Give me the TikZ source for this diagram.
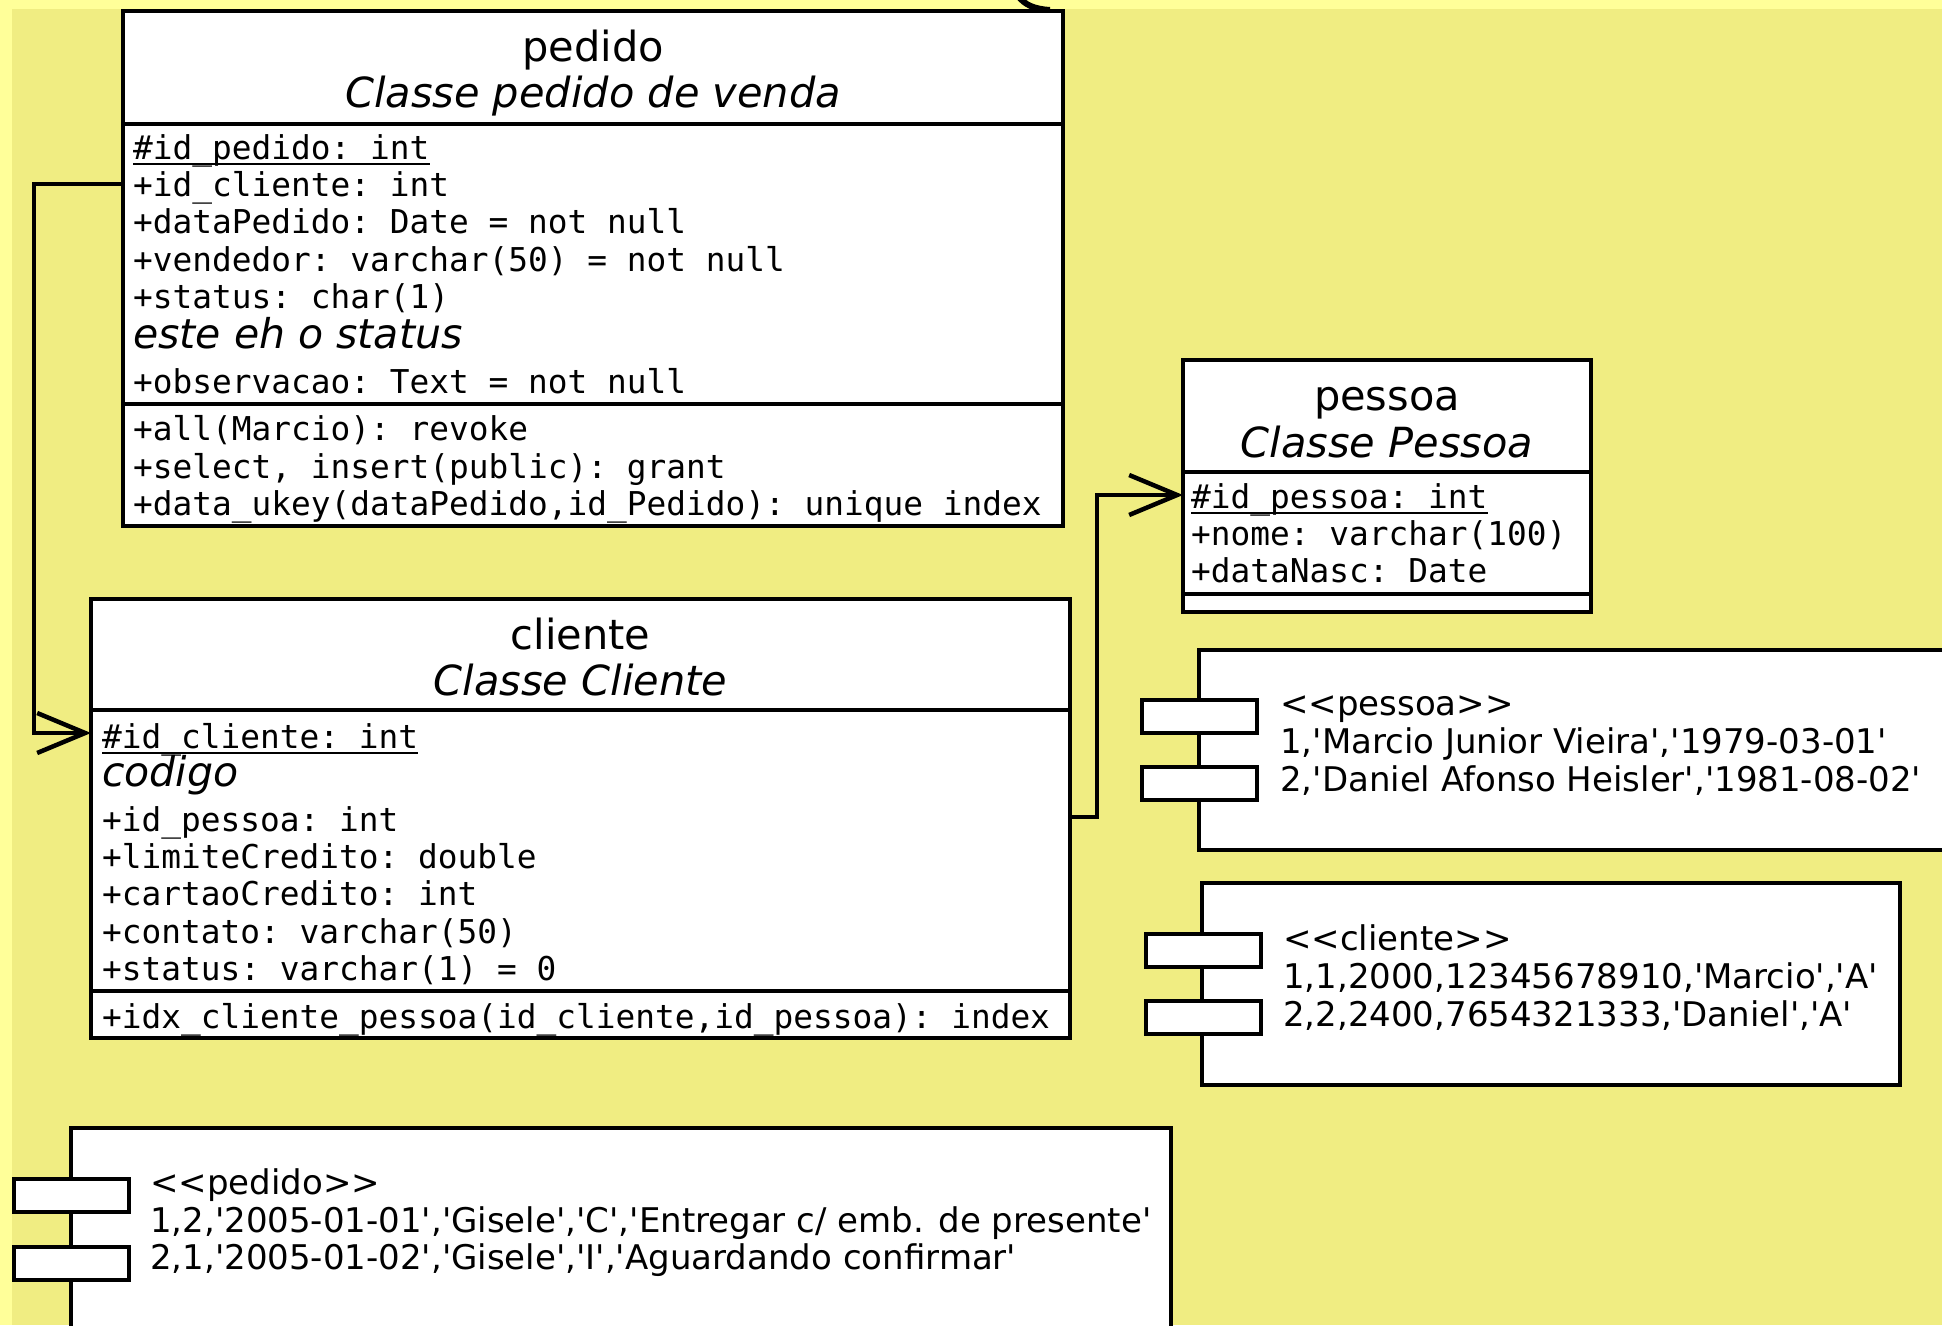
\documentclass[tikz,border=0pt]{standalone}
\usepackage{fontspec}
\setmainfont{DejaVu Sans}
\setmonofont{DejaVu Sans Mono}
\usetikzlibrary{arrows.meta}
\definecolor{bgyellow}{RGB}{240,237,130}
\definecolor{edgeyellow}{RGB}{255,255,153}
\newcommand{\sqt}{\textquotesingle}
\newcommand{\dlt}{<\kern0pt<}
\newcommand{\dgt}{>\kern0pt>}
\tikzset{
  box/.style={draw=black, fill=white, line width=4.5pt, rectangle, inner sep=0pt, outer sep=0pt, anchor=north west},
  sepline/.style={line width=4.5pt},
  conn/.style={line width=4.5pt, -{Straight Barb[length=48pt,width=40pt,line width=4.5pt]}},
  hdr/.style={inner sep=0pt, anchor=base, font=\fontsize{41.5}{41.5}\selectfont},
  hdri/.style={inner sep=0pt, anchor=base, font=\fontsize{41.5}{41.5}\selectfont\itshape},
  attr/.style={inner sep=0pt, anchor=base west, font=\fontsize{32.8}{32.8}\selectfont\ttfamily},
  note/.style={inner sep=0pt, anchor=base west, font=\fontsize{41}{41}\selectfont\itshape},
  dat/.style={inner sep=0pt, anchor=base west, font=\fontsize{34}{34}\selectfont},
  port/.style={draw=black, fill=white, line width=4.5pt, inner sep=0pt, outer sep=0pt, anchor=north west, minimum width=115pt, minimum height=33pt},
  uline/.style={line width=1.8pt},
}
\begin{document}
\begin{tikzpicture}[x=1pt,y=-1pt]
\path[use as bounding box] (0,0) rectangle (1942,1325);
\clip (0,0) rectangle (1942,1325);
\fill[bgyellow] (0,0) rectangle (1942,1325);
\fill[edgeyellow] (0,0) rectangle (1942,9);
\fill[edgeyellow] (0,0) rectangle (12,1325);
\coordinate (arcA) at (1018,-4);
\coordinate (arcB) at (1050,10);
\draw[line width=6pt] (arcA) .. controls (1025,5) and (1034,9) .. (arcB);

% ---------- pedido ----------
\node[box, minimum width=940pt, minimum height=515pt] (pedido) at (123,11) {};
\draw[sepline] (pedido.west |- 0,124) -- (pedido.east |- 0,124);
\draw[sepline] (pedido.west |- 0,404) -- (pedido.east |- 0,404);
\node[hdr] (pedT) at (593,61) {pedido};
\node[hdri] (pedS) at (593,107) {Classe pedido de venda};
\node[attr] (pidp) at (133,159) {\#id\_pedido: int};
\draw[uline] ([yshift=-5pt]pidp.base west) -- ([yshift=-5pt]pidp.base east);
\node[attr] (pidcl) at (133,196) {+id\_cliente: int};
\node[attr] (pdata) at (133,233) {+dataPedido: Date = not null};
\node[attr] (pvend) at (133,271) {+vendedor: varchar(50) = not null};
\node[attr] (pstat) at (133,308) {+status: char(1)};
\node[note] (pnote) at (133,348) {este eh o status};
\node[attr] (pobs) at (133,393) {+observacao: Text = not null};
\node[attr] (pm1) at (133,440) {+all(Marcio): revoke};
\node[attr] (pm2) at (133,478) {+select, insert(public): grant};
\node[attr] (pm3) at (133,515) {+data\_ukey(dataPedido,id\_Pedido): unique index};

% ---------- cliente ----------
\node[box, minimum width=979pt, minimum height=439pt] (cliente) at (91,599) {};
\draw[sepline] (cliente.west |- 0,710) -- (cliente.east |- 0,710);
\draw[sepline] (cliente.west |- 0,991) -- (cliente.east |- 0,991);
\node[hdr] (cliT) at (580.5,649) {cliente};
\node[hdri] (cliS) at (580.5,695) {Classe Cliente};
\node[attr] (cidcl) at (102,748) {\#id\_cliente: int};
\draw[uline] ([yshift=-5pt]cidcl.base west) -- ([yshift=-5pt]cidcl.base east);
\node[note] (cnote) at (102,786) {codigo};
\node[attr] (cidp) at (102,831) {+id\_pessoa: int};
\node[attr] (clim) at (102,868) {+limiteCredito: double};
\node[attr] (ccart) at (102,905) {+cartaoCredito: int};
\node[attr] (ccont) at (102,943) {+contato: varchar(50)};
\node[attr] (cstat) at (102,980) {+status: varchar(1) = 0};
\node[attr] (cidx) at (102,1028) {+idx\_cliente\_pessoa(id\_cliente,id\_pessoa): index};

% ---------- pessoa ----------
\node[box, minimum width=408pt, minimum height=252pt] (pessoa) at (1183,360) {};
\draw[sepline] (pessoa.west |- 0,472) -- (pessoa.east |- 0,472);
\draw[sepline] (pessoa.west |- 0,594) -- (pessoa.east |- 0,594);
\node[hdr] (pesT) at (1387,410) {pessoa};
\node[hdri] (pesS) at (1387,457) {Classe Pessoa};
\node[attr] (sidp) at (1191,508) {\#id\_pessoa: int};
\draw[uline] ([yshift=-5pt]sidp.base west) -- ([yshift=-5pt]sidp.base east);
\node[attr] (snome) at (1191,545) {+nome: varchar(100)};
\node[attr] (snasc) at (1191,582) {+dataNasc: Date};

% ---------- connectors ----------
\draw[conn] ([yshift=12pt]pidcl.base -| pedido.west) -- ++(-89,0) |- ([yshift=15pt]cidcl.base -| cliente.west);
\draw[conn] ([yshift=14pt]cidp.base -| cliente.east) -- ++(27,0) |- ([yshift=13pt]sidp.base -| pessoa.west);

% ---------- data: pessoa ----------
\node[box, minimum width=760pt, minimum height=200pt] (dpes) at (1199,650) {};
\node[port] (dpesP1) at (1142,700) {};
\node[port] (dpesP2) at (1142,767) {};
\node[dat] (dpes0) at (1280,715) {\dlt pessoa\dgt};
\node[dat] (dpes1) at (1280,753) {1,\sqt Marcio Junior Vieira\sqt,\sqt 1979-03-01\sqt};
\node[dat] (dpes2) at (1280,791) {2,\sqt Daniel Afonso Heisler\sqt,\sqt 1981-08-02\sqt};

% ---------- data: cliente ----------
\node[box, minimum width=698pt, minimum height=202pt] (dcli) at (1202,883) {};
\node[port] (dcliP1) at (1146,934) {};
\node[port] (dcliP2) at (1146,1001) {};
\node[dat] (dcli0) at (1283,950) {\dlt cliente\dgt};
\node[dat] (dcli1) at (1283,988) {1,1,2000,12345678910,\sqt Marcio\sqt,\sqt A\sqt};
\node[dat] (dcli2) at (1283,1026) {2,2,2400,7654321333,\sqt Daniel\sqt,\sqt A\sqt};

% ---------- data: pedido ----------
\node[box, minimum width=1100pt, minimum height=230pt] (dped) at (71,1128) {};
\node[port] (dpedP1) at (14,1179) {};
\node[port] (dpedP2) at (14,1247) {};
\node[dat] (dped0) at (150,1194) {\dlt pedido\dgt};
\node[dat] (dped1) at (150,1232) {1,2,\sqt 2005-01-01\sqt,\sqt Gisele\sqt,\sqt C\sqt,\sqt Entregar c/ emb. de presente\sqt};
\node[dat] (dped2) at (150,1269) {2,1,\sqt 2005-01-02\sqt,\sqt Gisele\sqt,\sqt I\sqt,\sqt Aguardando confirmar\sqt};
\end{tikzpicture}
\end{document}
